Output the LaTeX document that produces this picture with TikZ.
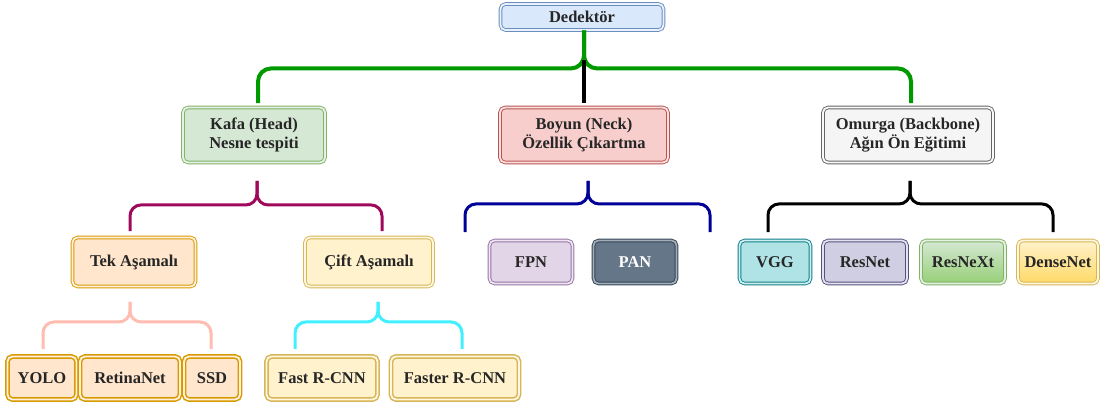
\documentclass[tikz,border=0pt]{standalone}
\usepackage{fontspec}
\setmainfont{Liberation Serif}
\usetikzlibrary{calc}

% box palette
\definecolor{blueF}{HTML}{DAE8FC}\definecolor{blueD}{HTML}{6C8EBF}
\definecolor{greenF}{HTML}{D5E8D4}\definecolor{greenD}{HTML}{82B366}
\definecolor{redF}{HTML}{F8CECC}\definecolor{redD}{HTML}{B85450}
\definecolor{grayF}{HTML}{F5F5F5}\definecolor{grayD}{HTML}{666666}
\definecolor{orangeF}{HTML}{FFE6CC}\definecolor{orangeD}{HTML}{D79B00}
\definecolor{yellowF}{HTML}{FFF2CC}\definecolor{yellowD}{HTML}{D6B656}
\definecolor{purpleF}{HTML}{E1D5E7}\definecolor{purpleD}{HTML}{9673A6}
\definecolor{slateF}{HTML}{647687}\definecolor{slateD}{HTML}{314354}
\definecolor{tealF}{HTML}{B0E3E6}\definecolor{tealD}{HTML}{0E8088}
\definecolor{lavF}{HTML}{D0CEE2}\definecolor{lavD}{HTML}{56517E}
\definecolor{limeB}{HTML}{97D077}\definecolor{goldB}{HTML}{FFD966}
% bracket palette
\definecolor{brGreen}{HTML}{009900}
\definecolor{brMagenta}{HTML}{A0085A}
\definecolor{brNavy}{HTML}{000099}
\definecolor{brSalmon}{HTML}{FFBCB0}
\definecolor{brCyan}{HTML}{40F0FF}

\begin{document}
\begin{tikzpicture}[x=1pt,y=-1pt,
  box/.style 2 args={rounded corners=5pt, draw=#2, fill=#1, double=#1!60!white,
    double distance=1.8pt, line width=0.9pt, align=center, inner sep=0pt,
    text=black!85, font=\bfseries\fontsize{16.5}{18.5}\selectfont},
  leaf/.style={line width=1.5pt, double distance=1.8pt},
  brace/.style={line width=3pt, rounded corners=11pt}]

\useasboundingbox (0,0) rectangle (1103,407);

% level 0
\node[box={blueF}{blueD}, minimum width=163pt, minimum height=26pt] (det) at (582,17) {Dedektör};

% level 1
\node[box={greenF}{greenD}, minimum width=142pt, minimum height=55pt] (head) at (254,135) {Kafa (Head)\\Nesne tespiti};
\node[box={redF}{redD}, minimum width=168pt, minimum height=55pt] (neck) at (584,135) {Boyun (Neck)\\Özellik Çıkartma};
\node[box={grayF}{grayD}, minimum width=170pt, minimum height=55pt] (back) at (908,135) {Omurga (Backbone)\\Ağın Ön Eğitimi};

% level 2
\node[box={orangeF}{orangeD}, minimum width=123pt, minimum height=49pt] (one) at (134,262) {Tek Aşamalı};
\node[box={yellowF}{yellowD}, minimum width=128pt, minimum height=49pt] (two) at (369,262) {Çift Aşamalı};
\node[box={purpleF}{purpleD}, minimum width=83pt, minimum height=43pt] (fpn) at (531,262) {FPN};
\node[box={slateF}{slateD}, minimum width=83pt, minimum height=43pt, text=white] (pan) at (635,262) {PAN};
\node[box={tealF}{tealD}, minimum width=71pt, minimum height=43pt] (vgg) at (775,262) {VGG};
\node[box={lavF}{lavD}, minimum width=84pt, minimum height=43pt] (resnet) at (865,262) {ResNet};
\node[box={greenF}{greenD}, top color=greenF, bottom color=limeB, minimum width=84pt, minimum height=43pt] (resnext) at (963,262) {ResNeXt};
\node[box={yellowF}{yellowD}, top color=yellowF, bottom color=goldB, minimum width=80pt, minimum height=43pt] (dense) at (1058,262) {DenseNet};

% level 3
\node[box={orangeF}{orangeD}, leaf, minimum width=69pt, minimum height=43pt] (yolo) at (42,378) {YOLO};
\node[box={orangeF}{orangeD}, leaf, minimum width=100pt, minimum height=43pt] (retina) at (130,378) {RetinaNet};
\node[box={orangeF}{orangeD}, leaf, minimum width=56pt, minimum height=43pt] (ssd) at (212,378) {SSD};
\node[box={yellowF}{yellowD}, leaf, minimum width=111pt, minimum height=43pt] (fast) at (322,378) {Fast R-CNN};
\node[box={yellowF}{yellowD}, leaf, minimum width=128pt, minimum height=43pt] (faster) at (455,378) {Faster R-CNN};

% bracket end points
\coordinate (j0) at ($(det.south)+(2,38)$);
\coordinate (t0) at (j0 |- det.south);
\coordinate (l0) at ($(head.north)+(4,-4)$);
\coordinate (r0) at ($(back.north)+(3,-4)$);

\coordinate (t1) at ($(head.south)+(3,18)$);
\coordinate (j1) at ($(head.south)+(3,42)$);
\coordinate (l1) at ($(one.north)+(-4,-6)$);
\coordinate (r1) at ($(two.north)+(13,-6)$);

\coordinate (t2) at ($(neck.south)+(4,18)$);
\coordinate (j2) at ($(neck.south)+(4,41)$);
\coordinate (l2) at ($(fpn.north)+(-66,-8)$);
\coordinate (r2) at ($(pan.north)+(75,-8)$);

\coordinate (t3) at ($(back.south)+(2,18)$);
\coordinate (j3) at ($(back.south)+(2,41)$);
\coordinate (l3) at ($(vgg.north)+(-7,-8)$);
\coordinate (r3) at ($(dense.north)+(-5,-8)$);

\coordinate (t4) at ($(one.south)+(-4,15)$);
\coordinate (j4) at ($(one.south)+(-4,35)$);
\coordinate (l4) at ($(yolo.north)+(1,-7)$);
\coordinate (r4) at ($(ssd.north)+(-1,-7)$);

\coordinate (t5) at ($(two.south)+(9,15)$);
\coordinate (j5) at ($(two.south)+(9,35)$);
\coordinate (l5) at ($(fast.north)+(-27,-7)$);
\coordinate (r5) at ($(faster.north)+(7,-7)$);

% top bracket: detector to its three parts
\draw[brace, brGreen, line width=4pt, rounded corners=13pt] (l0) |- (j0) -- (t0);
\draw[brace, brGreen, line width=4pt, rounded corners=13pt] (r0) |- (j0) -- (t0);
\draw[black, line width=4pt] ($(j0)+(0,-8)$) -- ($(neck.north)+(0,-4)$);

% level-1 brackets
\draw[brace, brMagenta] (l1) |- (j1) -- (t1);
\draw[brace, brMagenta] (r1) |- (j1) -- (t1);
\draw[brace, brNavy] (l2) |- (j2) -- (t2);
\draw[brace, brNavy] (r2) |- (j2) -- (t2);
\draw[brace, black] (l3) |- (j3) -- (t3);
\draw[brace, black] (r3) |- (j3) -- (t3);

% level-2 brackets
\draw[brace, brSalmon] (l4) |- (j4) -- (t4);
\draw[brace, brSalmon] (r4) |- (j4) -- (t4);
\draw[brace, brCyan] (l5) |- (j5) -- (t5);
\draw[brace, brCyan] (r5) |- (j5) -- (t5);
\end{tikzpicture}
\end{document}
